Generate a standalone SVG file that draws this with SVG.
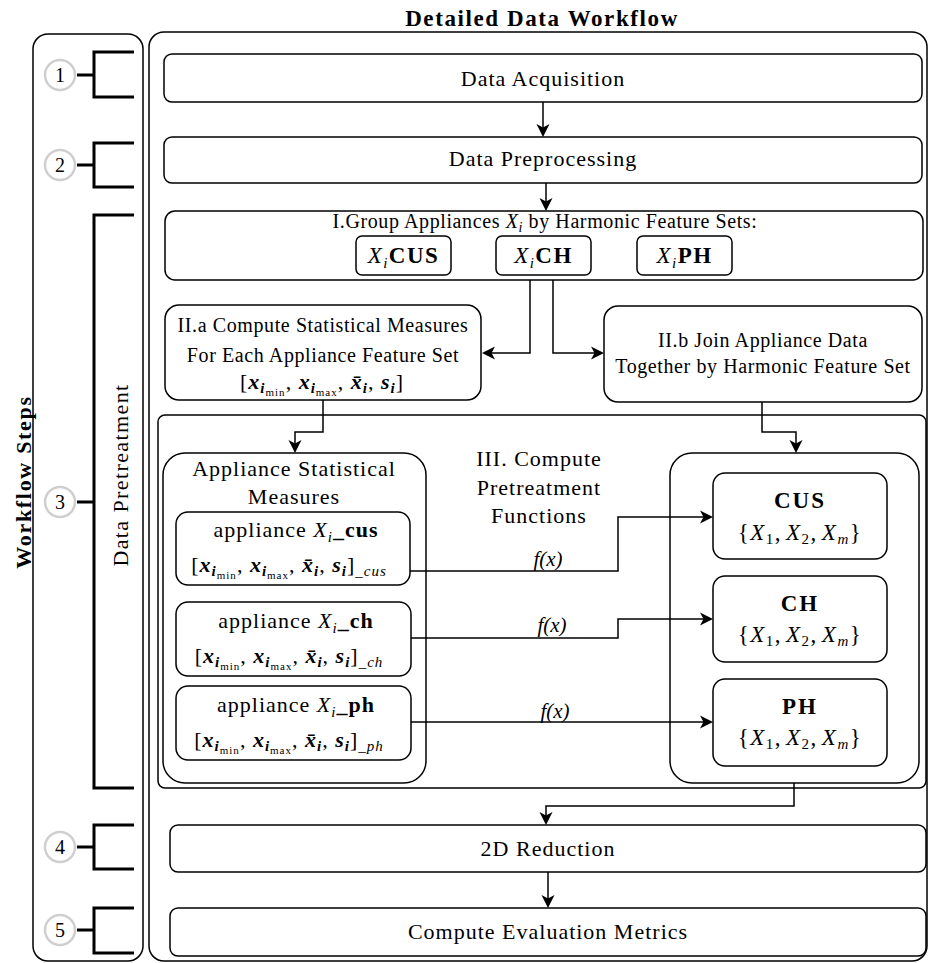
<svg xmlns="http://www.w3.org/2000/svg" width="928" height="963" viewBox="0 0 928 963">
<style>
text{font-family:"Liberation Serif","Times New Roman",serif;fill:#000}
.box{fill:#fff;stroke:#000;stroke-width:1.5}
.t22{font-size:22px;letter-spacing:1px}
.t20{font-size:20px;letter-spacing:0.6px}
.m{font-size:22px;letter-spacing:1px}
.c{text-anchor:middle}
.it{font-style:italic}
.b{font-weight:bold}
.bi{font-weight:bold;font-style:italic}
.conn path{fill:none;stroke:#000;stroke-width:1.5}
.br{fill:none;stroke:#000;stroke-width:3}
.num{fill:#fff;stroke:#cfcfcf;stroke-width:2.5}
</style>
<defs>
<marker id="ah" markerUnits="userSpaceOnUse" markerWidth="16" markerHeight="16" viewBox="-10 -8 16 16" refX="0" refY="0" orient="auto">
<path d="M4,0 L-9,-6.5 L-5.5,0 L-9,6.5 Z" fill="#000"/>
</marker>
</defs>

<text x="542" y="26" class="c b" font-size="23" letter-spacing="1.6">Detailed Data Workflow</text>

<g id="workflow-steps">
<rect class="box" x="33" y="34" width="110" height="927" rx="15"/>
<text transform="translate(31,482) rotate(-90)" class="c b" font-size="22" letter-spacing="1.7">Workflow Steps</text>
</g>

<g id="main">
<rect class="box" x="149" y="32" width="778" height="929" rx="15"/>
</g>

<g id="step1">
<circle class="num" cx="60" cy="75" r="15"/>
<text x="60" y="82" class="c" font-size="20">1</text>
<path class="br" d="M77,75 H94 M134,52 H94 V97 H134"/>
</g>
<g id="step2">
<circle class="num" cx="60" cy="165" r="15"/>
<text x="60" y="172" class="c" font-size="20">2</text>
<path class="br" d="M77,165 H94 M134,143 H94 V187 H134"/>
</g>
<g id="step3">
<circle class="num" cx="60" cy="502" r="15"/>
<text x="60" y="509" class="c" font-size="20">3</text>
<path class="br" d="M77,502 H94 M134,215 H94 V788 H134"/>
<text transform="translate(128,475) rotate(-90)" class="c" font-size="22" letter-spacing="1.4">Data Pretreatment</text>
</g>
<g id="step4">
<circle class="num" cx="60" cy="847" r="15"/>
<text x="60" y="854" class="c" font-size="20">4</text>
<path class="br" d="M77,847 H94 M134,825 H94 V869 H134"/>
</g>
<g id="step5">
<circle class="num" cx="60" cy="930" r="15"/>
<text x="60" y="937" class="c" font-size="20">5</text>
<path class="br" d="M77,930 H94 M134,908 H94 V953 H134"/>
</g>

<g id="data-acquisition">
<rect class="box" x="164" y="54" width="758" height="48" rx="8"/>
<text x="543" y="86" class="c t22">Data Acquisition</text>
</g>
<g id="data-preprocessing">
<rect class="box" x="164" y="137" width="758" height="46" rx="8"/>
<text x="543" y="166" class="c t22">Data Preprocessing</text>
</g>

<g id="group-appliances">
<rect class="box" x="165" y="211" width="758" height="69" rx="10"/>
<text x="545" y="228" class="c t20">I.Group Appliances <tspan class="it">X</tspan><tspan class="it" font-size="14" dy="4">i</tspan><tspan dy="-4"> by Harmonic Feature Sets:</tspan></text>
</g>
<g id="xi-cus">
<rect class="box" x="356" y="236" width="95" height="39" rx="6"/>
<text x="403.5" y="263" class="c" font-size="23" letter-spacing="1.5"><tspan class="it">X</tspan><tspan class="it" font-size="15" dy="5">i</tspan><tspan class="b" dy="-5">CUS</tspan></text>
</g>
<g id="xi-ch">
<rect class="box" x="496" y="236" width="95" height="39" rx="6"/>
<text x="543.5" y="263" class="c" font-size="23" letter-spacing="1.5"><tspan class="it">X</tspan><tspan class="it" font-size="15" dy="5">i</tspan><tspan class="b" dy="-5">CH</tspan></text>
</g>
<g id="xi-ph">
<rect class="box" x="637" y="236" width="95" height="39" rx="6"/>
<text x="684.5" y="263" class="c" font-size="23" letter-spacing="1.5"><tspan class="it">X</tspan><tspan class="it" font-size="15" dy="5">i</tspan><tspan class="b" dy="-5">PH</tspan></text>
</g>

<g id="compute-stats">
<rect class="box" x="165" y="305" width="316" height="95" rx="14"/>
<text x="323" y="332" class="c t20">II.a Compute Statistical Measures</text>
<text x="323" y="362" class="c t20">For Each Appliance Feature Set</text>
<text x="322" y="389" class="c m">[<tspan class="bi">x</tspan><tspan class="bi" font-size="15" dy="4">i</tspan><tspan font-size="11" dy="3">min</tspan><tspan dy="-7">, </tspan><tspan class="bi">x</tspan><tspan class="bi" font-size="15" dy="4">i</tspan><tspan font-size="11" dy="3">max</tspan><tspan dy="-7">, </tspan><tspan class="bi">x̄</tspan><tspan class="bi" font-size="15" dy="4">i</tspan><tspan dy="-4">, </tspan><tspan class="bi">s</tspan><tspan class="bi" font-size="15" dy="4">i</tspan><tspan dy="-4">]</tspan></text>
</g>

<g id="join-data">
<rect class="box" x="604" y="306" width="318" height="96" rx="14"/>
<text x="763" y="347" class="c t20">II.b Join Appliance Data</text>
<text x="763" y="373" class="c t20">Together by Harmonic Feature Set</text>
</g>

<g id="pretreatment-functions">
<rect class="box" x="158" y="415" width="768" height="373" rx="7"/>
<text x="539" y="466" class="c t22">III. Compute</text>
<text x="539" y="495" class="c t22">Pretreatment</text>
<text x="539" y="523" class="c t22">Functions</text>
</g>

<g id="appliance-stats">
<rect class="box" x="163" y="453" width="263" height="330" rx="22"/>
<text x="294" y="476" class="c t22">Appliance Statistical</text>
<text x="294" y="504" class="c t22">Measures</text>
</g>
<g id="appliance-cus">
<rect class="box" x="176" y="512" width="234" height="73" rx="12"/>
<text x="296" y="537" class="c t22">appliance <tspan class="it">X</tspan><tspan class="it" font-size="15" dy="5">i</tspan><tspan class="b" dy="-5">_cus</tspan></text>
<text x="289" y="572" class="c m">[<tspan class="bi">x</tspan><tspan class="bi" font-size="15" dy="4">i</tspan><tspan font-size="11" dy="3">min</tspan><tspan dy="-7">, </tspan><tspan class="bi">x</tspan><tspan class="bi" font-size="15" dy="4">i</tspan><tspan font-size="11" dy="3">max</tspan><tspan dy="-7">, </tspan><tspan class="bi">x̄</tspan><tspan class="bi" font-size="15" dy="4">i</tspan><tspan dy="-4">, </tspan><tspan class="bi">s</tspan><tspan class="bi" font-size="15" dy="4">i</tspan><tspan dy="-4">]</tspan><tspan class="it" font-size="15" dy="4">_cus</tspan></text>
</g>
<g id="appliance-ch">
<rect class="box" x="176" y="602" width="235" height="74" rx="12"/>
<text x="296" y="628" class="c t22">appliance <tspan class="it">X</tspan><tspan class="it" font-size="15" dy="5">i</tspan><tspan class="b" dy="-5">_ch</tspan></text>
<text x="289" y="663" class="c m">[<tspan class="bi">x</tspan><tspan class="bi" font-size="15" dy="4">i</tspan><tspan font-size="11" dy="3">min</tspan><tspan dy="-7">, </tspan><tspan class="bi">x</tspan><tspan class="bi" font-size="15" dy="4">i</tspan><tspan font-size="11" dy="3">max</tspan><tspan dy="-7">, </tspan><tspan class="bi">x̄</tspan><tspan class="bi" font-size="15" dy="4">i</tspan><tspan dy="-4">, </tspan><tspan class="bi">s</tspan><tspan class="bi" font-size="15" dy="4">i</tspan><tspan dy="-4">]</tspan><tspan class="it" font-size="15" dy="4">_ch</tspan></text>
</g>
<g id="appliance-ph">
<rect class="box" x="176" y="686" width="235" height="74" rx="12"/>
<text x="296" y="712" class="c t22">appliance <tspan class="it">X</tspan><tspan class="it" font-size="15" dy="5">i</tspan><tspan class="b" dy="-5">_ph</tspan></text>
<text x="289" y="747" class="c m">[<tspan class="bi">x</tspan><tspan class="bi" font-size="15" dy="4">i</tspan><tspan font-size="11" dy="3">min</tspan><tspan dy="-7">, </tspan><tspan class="bi">x</tspan><tspan class="bi" font-size="15" dy="4">i</tspan><tspan font-size="11" dy="3">max</tspan><tspan dy="-7">, </tspan><tspan class="bi">x̄</tspan><tspan class="bi" font-size="15" dy="4">i</tspan><tspan dy="-4">, </tspan><tspan class="bi">s</tspan><tspan class="bi" font-size="15" dy="4">i</tspan><tspan dy="-4">]</tspan><tspan class="it" font-size="15" dy="4">_ph</tspan></text>
</g>

<g id="feature-sets">
<rect class="box" x="670" y="453" width="249" height="330" rx="22"/>
</g>
<g id="set-cus">
<rect class="box" x="713" y="473" width="174" height="86" rx="12"/>
<text x="800" y="508" class="c b" font-size="23" letter-spacing="2">CUS</text>
<text x="800" y="540" class="c" font-size="23" letter-spacing="1.5">{<tspan class="it">X</tspan><tspan font-size="15" dy="4">1</tspan><tspan dy="-4">,</tspan><tspan class="it" dx="4">X</tspan><tspan font-size="15" dy="4">2</tspan><tspan dy="-4">,</tspan><tspan class="it" dx="4">X</tspan><tspan class="it" font-size="15" dy="4">m</tspan><tspan dy="-4">}</tspan></text>
</g>
<g id="set-ch">
<rect class="box" x="713" y="576" width="174" height="86" rx="12"/>
<text x="800" y="611" class="c b" font-size="23" letter-spacing="2">CH</text>
<text x="800" y="642" class="c" font-size="23" letter-spacing="1.5">{<tspan class="it">X</tspan><tspan font-size="15" dy="4">1</tspan><tspan dy="-4">,</tspan><tspan class="it" dx="4">X</tspan><tspan font-size="15" dy="4">2</tspan><tspan dy="-4">,</tspan><tspan class="it" dx="4">X</tspan><tspan class="it" font-size="15" dy="4">m</tspan><tspan dy="-4">}</tspan></text>
</g>
<g id="set-ph">
<rect class="box" x="713" y="679" width="174" height="87" rx="12"/>
<text x="800" y="714" class="c b" font-size="23" letter-spacing="2">PH</text>
<text x="800" y="745" class="c" font-size="23" letter-spacing="1.5">{<tspan class="it">X</tspan><tspan font-size="15" dy="4">1</tspan><tspan dy="-4">,</tspan><tspan class="it" dx="4">X</tspan><tspan font-size="15" dy="4">2</tspan><tspan dy="-4">,</tspan><tspan class="it" dx="4">X</tspan><tspan class="it" font-size="15" dy="4">m</tspan><tspan dy="-4">}</tspan></text>
</g>

<g id="reduction-2d">
<rect class="box" x="170" y="825" width="756" height="47" rx="8"/>
<text x="548" y="856" class="c t22">2D Reduction</text>
</g>
<g id="evaluation-metrics">
<rect class="box" x="170" y="908" width="756" height="48" rx="8"/>
<text x="548" y="939" class="c t22">Compute Evaluation Metrics</text>
</g>

<g id="connectors" class="conn">
<path d="M543,102 V133" marker-end="url(#ah)"/>
<path d="M546,183 V207" marker-end="url(#ah)"/>
<path d="M530,280 V353 H486" marker-end="url(#ah)"/>
<path d="M553,280 V353 H600" marker-end="url(#ah)"/>
<path d="M323,400 V432 H295 V449" marker-end="url(#ah)"/>
<path d="M762,402 V432 H796 V449" marker-end="url(#ah)"/>
<path d="M410,571 H618 V517 H709" marker-end="url(#ah)"/>
<path d="M411,638 H618 V619 H709" marker-end="url(#ah)"/>
<path d="M411,722 H709" marker-end="url(#ah)"/>
<path d="M794,783 V806 H546 V821" marker-end="url(#ah)"/>
<path d="M548,872 V904" marker-end="url(#ah)"/>
<text x="548" y="566" class="c it" font-size="21">f(x)</text>
<text x="552" y="632" class="c it" font-size="21">f(x)</text>
<text x="555" y="718" class="c it" font-size="21">f(x)</text>
</g>
</svg>
